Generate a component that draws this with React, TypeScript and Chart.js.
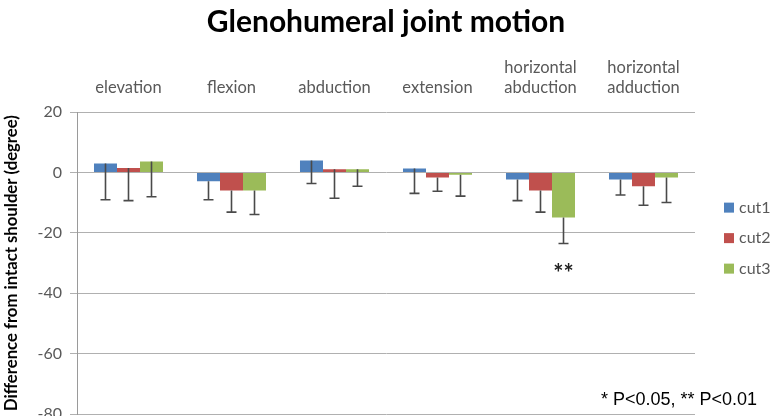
import React, { useEffect, useRef } from "react";
import { Chart, registerables } from "chart.js";

Chart.register(...registerables);

const categories: string[][] = [
  ["elevation"],
  ["flexion"],
  ["abduction"],
  ["extension"],
  ["horizontal", "abduction"],
  ["horizontal", "adduction"],
];
const seriesNames = ["cut1", "cut2", "cut3"];
const cut1 = [3.0, -2.9, 4.0, 1.4, -2.3, -2.3];
const cut2 = [1.5, -5.9, 1.1, -1.6, -5.9, -4.5];
const cut3 = [3.7, -5.9, 1.1, -0.7, -14.9, -1.6];
const cut1Sd = [12.0, 6.1, 7.6, 8.3, 7.0, 5.1];
const cut2Sd = [10.8, 7.2, 9.6, 4.6, 7.2, 6.3];
const cut3Sd = [11.7, 8.0, 5.6, 7.1, 8.6, 8.3];
const cut3Sig = ["", "", "", "", "**", ""];
const colors = ["#4F81BD", "#C0504D", "#9BBB59"];
const yMin = -80;
const yMax = 20;
const yStep = 20;
const footnote = "* P<0.05, ** P<0.01";

const sds = [cut1Sd, cut2Sd, cut3Sd];
const sigs = [["", "", "", "", "", ""], ["", "", "", "", "", ""], cut3Sig];

const errorBarPlugin = {
  id: "errorBars",
  afterDatasetsDraw(chart: any) {
    const ctx = chart.ctx;
    const y = chart.scales.y;
    ctx.save();
    chart.data.datasets.forEach((ds: any, di: number) => {
      const meta = chart.getDatasetMeta(di);
      meta.data.forEach((bar: any, i: number) => {
        const v = ds.data[i];
        const low = v - sds[di][i];
        const x = bar.x;
        const y0 = y.getPixelForValue(v);
        const y1 = y.getPixelForValue(low);
        ctx.strokeStyle = "#4a4a4a";
        ctx.lineWidth = 1.6;
        ctx.beginPath();
        ctx.moveTo(x, y0);
        ctx.lineTo(x, y1);
        ctx.moveTo(x - 5, y1);
        ctx.lineTo(x + 5, y1);
        ctx.stroke();
        const s = sigs[di][i];
        if (s) {
          ctx.fillStyle = "#222";
          ctx.font = "bold 24px Lato";
          ctx.textAlign = "center";
          ctx.textBaseline = "middle";
          ctx.fillText(s, x, y1 + 31);
        }
      });
    });
    ctx.restore();
  },
};

const sideLegendPlugin = {
  id: "sideLegend",
  afterDraw(chart: any) {
    const ctx = chart.ctx;
    const area = chart.chartArea;
    ctx.save();
    const cy = (area.top + area.bottom) / 2 - 25;
    const x0 = area.right + 29;
    chart.data.datasets.forEach((ds: any, di: number) => {
      const yc = cy + (di - 1) * 30.5;
      ctx.fillStyle = ds.backgroundColor;
      ctx.fillRect(x0, yc - 5, 10, 10);
      ctx.fillStyle = "#595959";
      ctx.font = "16px Lato";
      ctx.textAlign = "left";
      ctx.textBaseline = "middle";
      ctx.fillText(ds.label, x0 + 15, yc);
    });
    ctx.fillStyle = "#000";
    ctx.font = "18px 'Liberation Sans'";
    ctx.textAlign = "right";
    ctx.textBaseline = "middle";
    ctx.fillText(footnote, chart.width - 15, area.bottom - 14);
    ctx.restore();
  },
};

export default function App() {
  const ref = useRef<HTMLCanvasElement | null>(null);
  useEffect(() => {
    if (!ref.current) return;
    const values = [cut1, cut2, cut3];
    const chart = new Chart(ref.current, {
      type: "bar",
      data: {
        labels: categories,
        datasets: seriesNames.map((n, i) => ({
          label: n,
          data: values[i],
          backgroundColor: colors[i],
          borderWidth: 0,
          categoryPercentage: 0.67,
          barPercentage: 1,
        })),
      },
      options: {
        animation: false,
        responsive: true,
        maintainAspectRatio: false,
        layout: { padding: { left: 0, right: 0, top: 0, bottom: 26 } },
        plugins: {
          legend: { display: false },
          tooltip: { enabled: false },
          title: {
            display: true,
            text: "Glenohumeral joint motion",
            color: "#000",
            font: { family: "Lato", size: 30, weight: "bold", lineHeight: 1.2 },
            padding: { top: 4, bottom: 3 },
          },
        },
        scales: {
          x: {
            position: "top",
            grid: { display: false, drawTicks: false },
            border: { display: false },
            ticks: {
              color: "#595959",
              font: { family: "Lato", size: 16.5, lineHeight: 1.25 },
              padding: 14,
              maxRotation: 0,
              autoSkip: false,
            },
          },
          y: {
            min: yMin,
            max: yMax,
            afterFit: (s: any) => {
              s.width = 77;
            },
            ticks: {
              stepSize: yStep,
              color: "#595959",
              font: { family: "Lato", size: 16 },
              padding: 8,
            },
            grid: { color: "#b0b0b0", lineWidth: 1, tickLength: 7 },
            border: { display: true, color: "#9a9a9a" },
            title: {
              display: true,
              text: "Difference from intact shoulder (degree)",
              color: "#000",
              font: { family: "Lato", size: 16.7, weight: "bold", lineHeight: 1.2 },
              padding: { top: 2, bottom: 8 },
            },
          },
          side: {
            type: "linear",
            position: "right",
            display: true,
            min: yMin,
            max: yMax,
            grid: { display: false, drawTicks: false },
            border: { display: false },
            ticks: { display: false },
            afterFit: (s: any) => {
              s.width = 77;
            },
          },
        },
      },
      plugins: [errorBarPlugin, sideLegendPlugin],
    });
    return () => chart.destroy();
  }, []);
  return (
    <div style={{ position: "fixed", left: 0, top: 0, width: 772, height: 416, overflow: "hidden", background: "#fff" }}>
      <div style={{ position: "relative", width: 772, height: 440 }}>
        <canvas ref={ref} />
      </div>
    </div>
  );
}
